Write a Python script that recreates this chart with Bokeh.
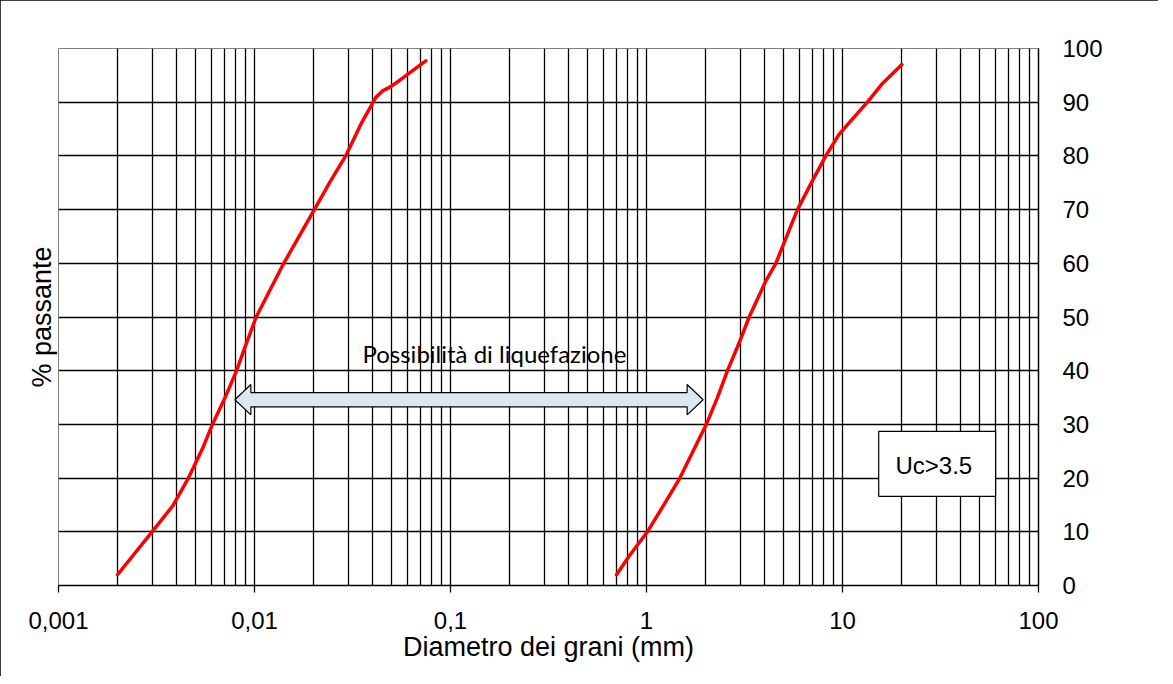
from bokeh.plotting import figure
from bokeh.models import (LinearAxis, FixedTicker, Label, BoxAnnotation,
                          InlineStyleSheet, Range1d)
from bokeh.embed import file_html
from bokeh.resources import INLINE

# ---------------- data ----------------
fine_d = [0.002, 0.003, 0.00382, 0.0046, 0.00543, 0.0061, 0.00714, 0.0081,
          0.00903, 0.0102, 0.0141, 0.0202, 0.0245, 0.0292, 0.0349,
          0.0416, 0.045, 0.0496, 0.0547, 0.0604, 0.0748]
fine_p = [2, 10, 14.8, 20, 25.5, 30, 35.3, 40, 44.8, 50, 60, 70, 75.4,
          80, 85.9, 90.9, 92.1, 92.9, 94.0, 95.2, 97.7]

coarse_d = [0.703, 0.816, 1.01, 1.23, 1.48, 1.75, 2.02, 2.30, 2.59, 2.97,
            3.34, 4.06, 4.57, 5.24, 5.89, 7.03, 8.22, 9.6, 11.2, 13.4, 16.0,
            20.1]
coarse_p = [2, 5.5, 10, 15.1, 20, 25.4, 30, 35.0, 40, 45.2, 50, 56.7, 60,
            65.4, 70, 75.4, 80, 84, 86.8, 90, 93.5, 97]

x_ticks = [0.001, 0.01, 0.1, 1, 10, 100]
x_tick_labels = ["0,001", "0,01", "0,1", "1", "10", "100"]
y_ticks = [0, 10, 20, 30, 40, 50, 60, 70, 80, 90, 100]

arrow_from = 0.00794      # mm
arrow_to = 1.945          # mm
arrow_level = 34.6        # %
arrow_text = "Possibilità di liquefazione"
box_text = "Uc>3.5"

x_title = "Diametro dei grani (mm)"
y_title = "% passante"

# ---------------- figure ----------------
p = figure(width=1158, height=676, x_axis_type="log",
           x_range=Range1d(0.001, 100), y_range=Range1d(0, 100),
           y_axis_location="right", output_backend="svg",
           toolbar_location=None,
           min_border_left=58, min_border_right=120,
           min_border_top=48, min_border_bottom=91)
p.background_fill_color = "white"
p.border_fill_color = "white"
p.outline_line_color = "#808080"
p.outline_line_width = 1
p.stylesheets = [InlineStyleSheet(
    css=":host { outline: 2px solid black; outline-offset: -2px; }")]

# grids
grid_x = [m * 10.0 ** k for k in range(-3, 2) for m in range(1, 10)][1:]
p.xgrid.ticker = FixedTicker(ticks=grid_x)
p.ygrid.ticker = FixedTicker(ticks=y_ticks[1:-1])
for g in (p.xgrid, p.ygrid):
    g.grid_line_color = "black"
    g.grid_line_width = 1.3
    g.grid_line_alpha = 1

# x axis
xa = p.xaxis[0]
xa.ticker = FixedTicker(ticks=x_ticks)
xa.major_label_overrides = {t: l for t, l in zip(x_ticks, x_tick_labels)}
xa.major_tick_out = 7
xa.major_tick_in = 0
xa.minor_tick_line_color = None
xa.major_tick_line_color = "black"
xa.major_tick_line_width = 1.3
xa.axis_line_color = "black"
xa.axis_line_width = 1.5
xa.major_label_standoff = 19
xa.major_label_text_font = "Liberation Sans"
xa.major_label_text_font_size = "24px"
xa.major_label_text_color = "black"
xa.axis_label = x_title
xa.axis_label_text_font = "Liberation Sans"
xa.axis_label_text_font_size = "27px"
xa.axis_label_text_font_style = "normal"
xa.axis_label_text_color = "black"
xa.axis_label_standoff = 0

# y axis (right)
ya = p.yaxis[0]
ya.ticker = FixedTicker(ticks=y_ticks)
ya.major_tick_out = 0
ya.major_tick_in = 0
ya.minor_tick_line_color = None
ya.axis_line_color = "black"
ya.axis_line_width = 1.5
ya.major_label_standoff = 24
ya.major_label_text_font = "Liberation Sans"
ya.major_label_text_font_size = "24px"
ya.major_label_text_color = "black"

# left title axis
la = LinearAxis(ticker=FixedTicker(ticks=[]), axis_label=y_title,
                axis_line_color=None, major_tick_line_color=None,
                minor_tick_line_color=None, major_label_text_font_size="0px",
                major_tick_out=0, major_tick_in=0, major_label_standoff=0,
                axis_label_standoff=2,
                axis_label_text_font="Liberation Sans",
                axis_label_text_font_size="27px",
                axis_label_text_font_style="normal",
                axis_label_text_color="black")
p.add_layout(la, "left")

# double arrow (block shape)
dec = 196.0                # px per decade
unit = 538.0 / 100.0       # px per %
head_len = 16.0 / dec
shaft_half = 7.15 / unit
head_half = 15.2 / unit
tl, tr = arrow_from, arrow_to
bl = tl * 10 ** head_len
br = tr / 10 ** head_len
c = arrow_level
ax = [tl, bl, bl, br, br, tr, br, br, bl, bl]
ay = [c, c + head_half, c + shaft_half, c + shaft_half, c + head_half, c,
      c - head_half, c - shaft_half, c - shaft_half, c - head_half]
p.patch(ax, ay, fill_color="#dde6f3", line_color="black", line_width=1.2)

# curves
p.line(fine_d, fine_p, line_color="#ff0000", line_width=3.5,
       line_join="round", line_cap="round")
p.line(coarse_d, coarse_p, line_color="#ff0000", line_width=3.5,
       line_join="round", line_cap="round")

# annotations
p.add_layout(Label(x=0.1675, y=43.2, text=arrow_text, text_align="center",
                   text_baseline="alphabetic", text_font="Lato",
                   text_font_size="24px", text_color="black"))
p.add_layout(BoxAnnotation(left=15.3, right=60.4, bottom=16.6, top=28.7,
                           fill_color="white", fill_alpha=1,
                           line_color="black", line_width=1.2, line_alpha=1))
p.add_layout(Label(x=18.64, y=22.4, text=box_text, text_align="left",
                   text_baseline="alphabetic", text_font="Liberation Sans",
                   text_font_size="24px", text_color="black"))

open("out.html", "w").write(file_html(p, INLINE))
